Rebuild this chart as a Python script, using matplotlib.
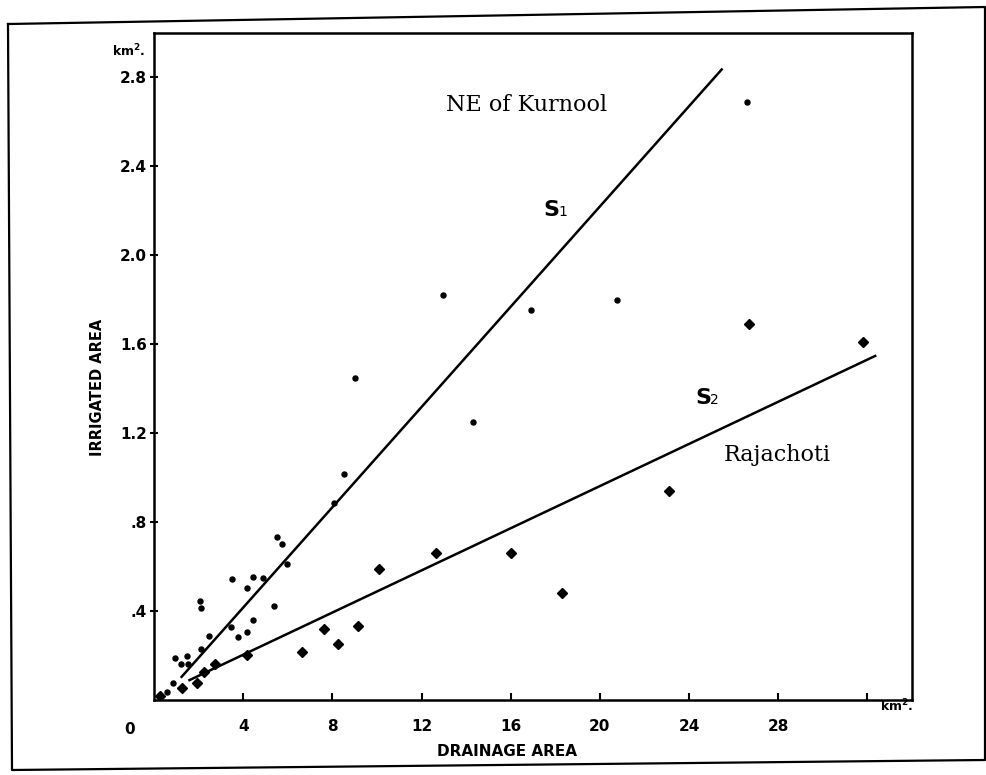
import matplotlib
matplotlib.use("Agg")
import matplotlib.pyplot as plt
from matplotlib.lines import Line2D

# ---- data ----
kurnool_x = [26.6, 12.96, 16.9, 20.76, 9.0, 14.3, 8.5, 8.09, 5.52, 5.74, 5.95, 3.48, 4.42, 4.87,
             4.19, 2.07, 2.11, 5.39, 3.45, 4.44, 4.16, 3.76, 2.46, 2.09, 0.96, 1.46, 1.23, 1.54,
             0.86, 0.59]
kurnool_y = [2.69, 1.82, 1.755, 1.80, 1.45, 1.25, 1.016, 0.887, 0.735, 0.70, 0.61, 0.545, 0.553,
             0.548, 0.504, 0.445, 0.413, 0.425, 0.33, 0.36, 0.306, 0.285, 0.29, 0.23, 0.187, 0.20,
             0.16, 0.16, 0.075, 0.035]

rajachoti_x = [26.7, 31.8, 23.08, 18.3, 16.0, 12.64, 10.07, 9.14, 7.62, 8.24, 6.66, 4.15, 2.75,
               2.26, 1.94, 1.26, 0.27]
rajachoti_y = [1.69, 1.61, 0.94, 0.48, 0.66, 0.66, 0.59, 0.333, 0.318, 0.25, 0.217, 0.203, 0.16,
               0.126, 0.077, 0.056, 0.02]

s1_x = [1.2, 25.5]
s1_y = [0.10, 2.84]
s2_x = [1.54, 32.4]
s2_y = [0.087, 1.55]

x_ticks = [4, 8, 12, 16, 20, 24, 28, 32]
x_tick_labels = ["4", "8", "12", "16", "20", "24", "28", ""]
y_ticks = [0.4, 0.8, 1.2, 1.6, 2.0, 2.4, 2.8]
y_tick_labels = [".4", ".8", "1.2", "1.6", "2.0", "2.4", "2.8"]

W, H = 986, 775
fig = plt.figure(figsize=(W / 100, H / 100), dpi=100)


def fx(px):
    return px / W


def fy(py):
    return 1 - py / H


ax = fig.add_axes([fx(154), fy(700), (912 - 154) / W, (700 - 33) / H])
ax.set_xlim(0, 34)
ax.set_ylim(0, 3.0)

for s in ax.spines.values():
    s.set_linewidth(1.8)
    s.set_color("black")

ax.set_xticks(x_ticks)
ax.set_xticklabels(x_tick_labels)
ax.set_yticks(y_ticks)
ax.set_yticklabels(y_tick_labels)
ax.tick_params(axis="x", direction="in", length=5, width=1.5, pad=14,
               labelsize=11)
ax.tick_params(axis="y", direction="inout", length=6, width=1.5, pad=2,
               labelsize=11)
for lab in ax.get_xticklabels() + ax.get_yticklabels():
    lab.set_fontweight("bold")

ax.plot(s1_x, s1_y, color="black", lw=1.8, solid_capstyle="butt")
ax.plot(s2_x, s2_y, color="black", lw=1.8, solid_capstyle="butt")
ax.plot(kurnool_x, kurnool_y, "o", color="black", ms=3.6, ls="none")
ax.plot(rajachoti_x, rajachoti_y, "D", color="black", ms=4.6, ls="none")

# annotations
fig.text(fx(527), fy(105), "NE of Kurnool", family="DejaVu Serif", fontsize=16,
         ha="center", va="center")
fig.text(fx(777), fy(455), "Rajachoti", family="DejaVu Serif", fontsize=16,
         ha="center", va="center")
fig.text(fx(543), fy(216), "S", fontsize=16, fontweight="bold", ha="left", va="baseline")
fig.text(fx(558), fy(216), "1", fontsize=10, ha="left", va="baseline")
fig.text(fx(695), fy(404), "S", fontsize=16, fontweight="bold", ha="left", va="baseline")
fig.text(fx(710), fy(404), "2", fontsize=10, ha="left", va="baseline")

fig.text(fx(145), fy(51), "km$^\\mathbf{2}$.", fontsize=9, fontweight="bold",
         ha="right", va="center")
fig.text(fx(880), fy(706), "km$^\\mathbf{2}$.", fontsize=9, fontweight="bold",
         ha="left", va="center")
fig.text(fx(130), fy(730), "0", fontsize=11, fontweight="bold", ha="center", va="center")
fig.text(fx(97), fy(387), "IRRIGATED AREA", fontsize=10.5, fontweight="bold",
         rotation=90, ha="center", va="center")
fig.text(fx(507), fy(752), "DRAINAGE AREA", fontsize=11, fontweight="bold",
         ha="center", va="center")

# page frame
frame = Line2D([fx(8), fx(985), fx(985), fx(12), fx(8)],
               [fy(24), fy(7), fy(760), fy(770), fy(24)],
               transform=fig.transFigure, color="black", lw=1.6)
fig.add_artist(frame)

fig.savefig("out.png", dpi=100)
